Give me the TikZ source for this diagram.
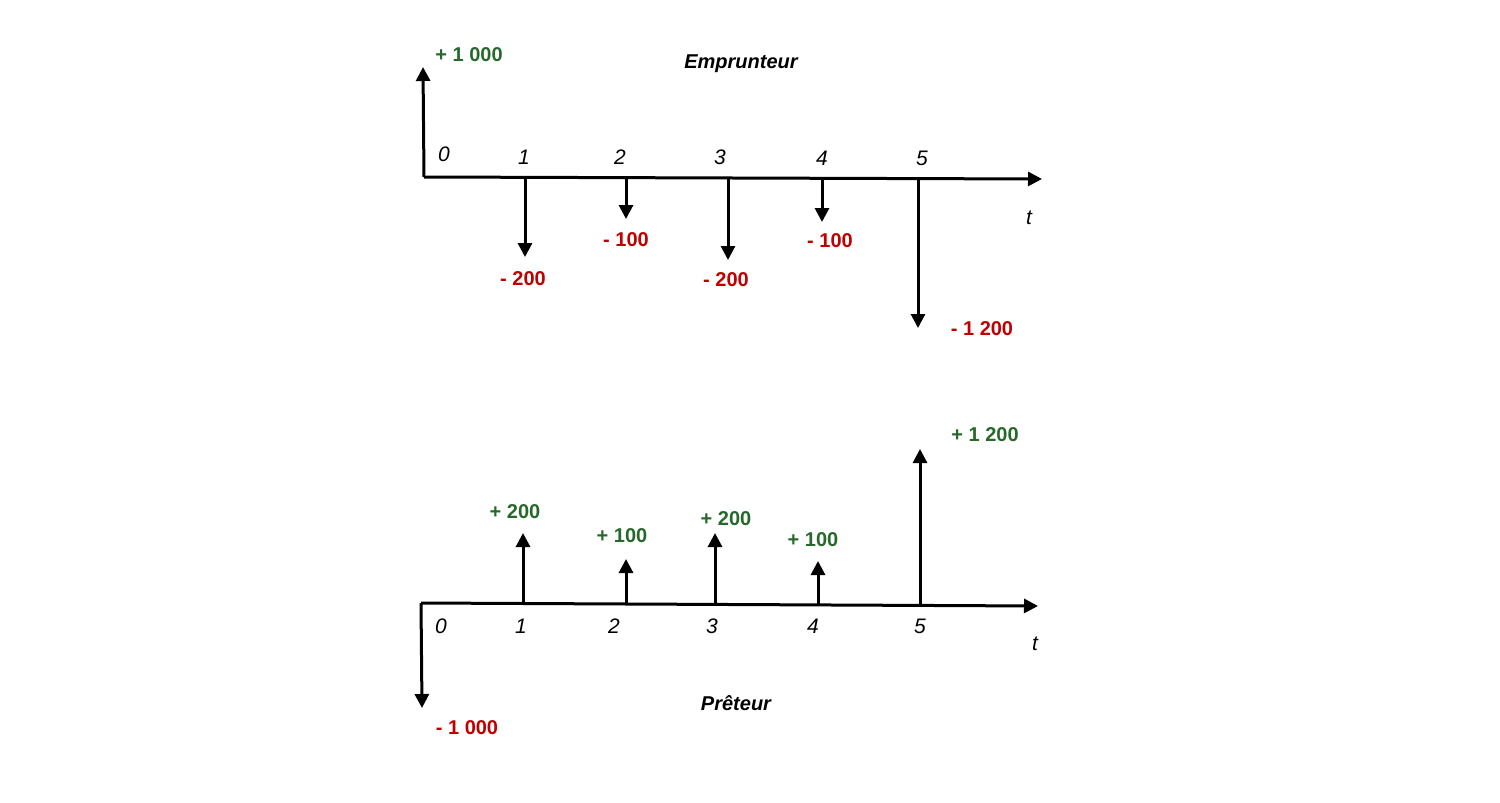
\documentclass[tikz,border=0pt]{standalone}
\usepackage{fontspec}
\setmainfont{Liberation Sans}
\usetikzlibrary{arrows.meta}
\definecolor{pos}{RGB}{38,105,42}
\definecolor{neg}{RGB}{192,0,0}
\tikzset{
  flow/.style={line width=1.5pt,-{Triangle[width=7pt,length=7pt]}},
  axis/.style={line width=1.5pt,-{Triangle[width=7pt,length=7pt]}},
  tick/.style={font=\fontsize{10.5}{12}\selectfont\itshape,inner sep=0pt},
  plus/.style={font=\fontsize{10}{12}\selectfont\bfseries,text=pos,inner sep=0pt},
  minus/.style={font=\fontsize{10}{12}\selectfont\bfseries,text=neg,inner sep=0pt},
  ttl/.style={font=\fontsize{10}{12}\selectfont\bfseries\itshape,inner sep=0pt}
}
\begin{document}
\begin{tikzpicture}[x=0.5pt,y=-0.5pt]
\useasboundingbox[fill=white] (0,0) rectangle (1500,803);
% ---------- Emprunteur ----------
\coordinate (a0) at (424,177);
\coordinate (aend) at (1042,179);
\draw[axis] (a0) -- (aend);
\coordinate (a0t) at (423,67);
\draw[flow] (a0) -- (a0t);
\coordinate (a1) at (525,177); \coordinate (a1t) at (525,257);
\coordinate (a2) at (626,178); \coordinate (a2t) at (626,219);
\coordinate (a3) at (728,178); \coordinate (a3t) at (728,260);
\coordinate (a4) at (822,178); \coordinate (a4t) at (822,222);
\coordinate (a5) at (918,179); \coordinate (a5t) at (918,328);
\foreach \i in {1,...,5} {\draw[flow] (a\i) -- (a\i t);}
\node[plus] (la0) at (469,55) {+ 1 000};
\node[ttl] (ttlA) at (741,64) {Emprunteur};
\node[tick] (ta0) at (444,154) {0};
\node[tick] (ta1) at (524,157) {1};
\node[tick] (ta2) at (620,157) {2};
\node[tick] (ta3) at (720,157) {3};
\node[tick] (ta4) at (822,158) {4};
\node[tick] (ta5) at (922,158) {5};
\node[tick] (tat) at (1029,218) {t};
\node[minus] (la1) at (523,279) {- 200};
\node[minus] (la2) at (626,240) {- 100};
\node[minus] (la3) at (726,280) {- 200};
\node[minus] (la4) at (830,241) {- 100};
\node[minus] (la5) at (982,329) {- 1 200};
% ---------- Prêteur ----------
\coordinate (b0) at (421,603);
\coordinate (bend) at (1038,606);
\draw[axis] (b0) -- (bend);
\coordinate (b0t) at (422,708);
\draw[flow] (b0) -- (b0t);
\coordinate (b1) at (523,603); \coordinate (b1t) at (523,533);
\coordinate (b2) at (626,604); \coordinate (b2t) at (626,559);
\coordinate (b3) at (715,604); \coordinate (b3t) at (715,533);
\coordinate (b4) at (818,604); \coordinate (b4t) at (818,561);
\coordinate (b5) at (920,605); \coordinate (b5t) at (920,449);
\foreach \i in {1,...,5} {\draw[flow] (b\i) -- (b\i t);}
\node[minus] (lb0) at (467,728) {- 1 000};
\node[plus] (lb1) at (515,512) {+ 200};
\node[plus] (lb2) at (622,536) {+ 100};
\node[plus] (lb3) at (726,519) {+ 200};
\node[plus] (lb4) at (813,540) {+ 100};
\node[plus] (lb5) at (985,435) {+ 1 200};
\node[tick] (tb0) at (441,626) {0};
\node[tick] (tb1) at (521,626) {1};
\node[tick] (tb2) at (614,626) {2};
\node[tick] (tb3) at (712,626) {3};
\node[tick] (tb4) at (813,626) {4};
\node[tick] (tb5) at (920,626) {5};
\node[tick] (tbt) at (1035,644) {t};
\node[ttl] (ttlB) at (736,703) {Prêteur};
\end{tikzpicture}
\end{document}
